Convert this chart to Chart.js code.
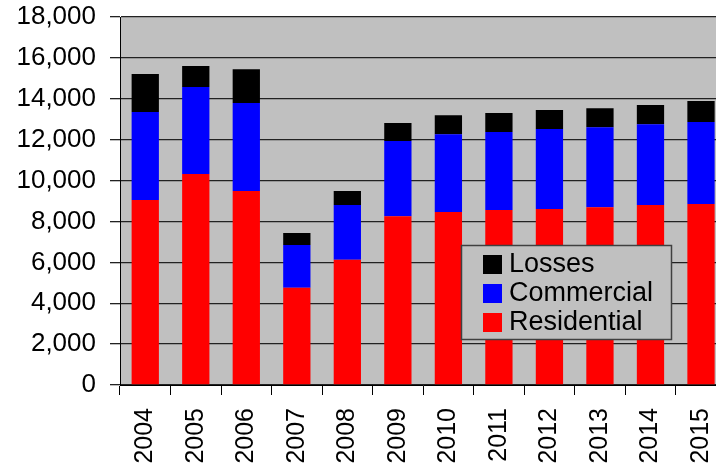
<!DOCTYPE html>
<html lang="en">
<head>
  <meta charset="UTF-8" />
  <title>Energy by sector</title>
  <script src="https://cdn.jsdelivr.net/npm/chart.js"></script>
  <style>
    body {
      margin: 0;
      background: #fff;
      overflow: hidden;
    }
    .chart-box {
      width: 744px;
      height: 470px;
    }
  </style>
</head>
<body>
  <div class="chart-box">
    <canvas id="chart"></canvas>
  </div>

  <script>
    const years = ['2004', '2005', '2006', '2007', '2008', '2009', '2010', '2011', '2012', '2013', '2014', '2015'];
    const residential = [9050, 10320, 9490, 4760, 6130, 8260, 8460, 8560, 8610, 8700, 8800, 8850];
    const commercial = [4300, 4250, 4300, 2090, 2670, 3670, 3810, 3810, 3910, 3910, 3960, 4010];
    const losses = [1860, 1030, 1660, 590, 690, 880, 930, 930, 930, 930, 930, 1030];
    const yTicks = [0, 2000, 4000, 6000, 8000, 10000, 12000, 14000, 16000, 18000];

    const fontFamily = '"Liberation Sans", Arial, sans-serif';

    // grey plot background
    const plotBg = {
      id: 'plotBg',
      beforeDraw(chart) {
        const a = chart.chartArea;
        const ctx = chart.ctx;
        ctx.save();
        ctx.fillStyle = '#c0c0c0';
        ctx.fillRect(a.left, a.top, a.right - a.left, a.bottom - a.top);
        ctx.restore();
      }
    };

    // legend box drawn inside the plot, top entry = top of the stack
    const boxLegend = {
      id: 'boxLegend',
      afterDraw(chart) {
        const ctx = chart.ctx;
        const x = 461, y = 245, w = 210, h = 94;
        ctx.save();
        ctx.fillStyle = '#c0c0c0';
        ctx.fillRect(x, y, w, h);
        ctx.strokeStyle = '#404040';
        ctx.lineWidth = 1.5;
        ctx.strokeRect(x + 0.5, y + 0.5, w, h);
        ctx.font = '27px ' + fontFamily;
        ctx.textBaseline = 'middle';
        const sets = chart.data.datasets.slice().reverse();
        sets.forEach((ds, i) => {
          const cy = y + 19 + i * 29;
          ctx.fillStyle = ds.backgroundColor;
          ctx.fillRect(x + 22, cy - 9, 19, 19);
          ctx.fillStyle = '#000';
          ctx.fillText(ds.label, x + 48, cy + 1);
        });
        ctx.restore();
      }
    };

    new Chart(document.getElementById('chart'), {
      type: 'bar',
      data: {
        labels: years,
        datasets: [
          { label: 'Residential', data: residential, backgroundColor: '#ff0000' },
          { label: 'Commercial', data: commercial, backgroundColor: '#0000ff' },
          { label: 'Losses', data: losses, backgroundColor: '#000000' }
        ]
      },
      options: {
        responsive: true,
        maintainAspectRatio: false,
        animation: false,
        layout: { padding: { top: 17, right: 0, bottom: 0, left: 0 } },
        datasets: {
          bar: { barPercentage: 0.54, categoryPercentage: 1 }
        },
        plugins: {
          legend: { display: false },
          tooltip: { enabled: false }
        },
        scales: {
          x: {
            stacked: true,
            afterFit(scale) { scale.height = 85; },
            grid: {
              offset: true,
              drawOnChartArea: false,
              drawTicks: true,
              tickLength: 10,
              color: '#000',
              lineWidth: 1
            },
            border: { color: '#000', width: 1 },
            ticks: {
              color: '#000',
              minRotation: 90,
              maxRotation: 90,
              padding: 13,
              autoSkip: false,
              font: { family: fontFamily, size: 25 }
            }
          },
          y: {
            stacked: true,
            min: 0,
            max: 18000,
            afterFit(scale) {
              scale.width = 120;
              scale.paddingTop = 0;
              scale.paddingBottom = 0;
            },
            afterBuildTicks(scale) {
              scale.ticks = yTicks.map(v => ({ value: v }));
            },
            grid: {
              color: '#222',
              lineWidth: 1.3,
              tickLength: 10
            },
            border: { color: '#000', width: 1 },
            ticks: {
              color: '#000',
              padding: 14,
              font: { family: fontFamily, size: 26 },
              callback: v => v.toLocaleString('en-US')
            }
          }
        }
      },
      plugins: [plotBg, boxLegend]
    });
  </script>
</body>
</html>
